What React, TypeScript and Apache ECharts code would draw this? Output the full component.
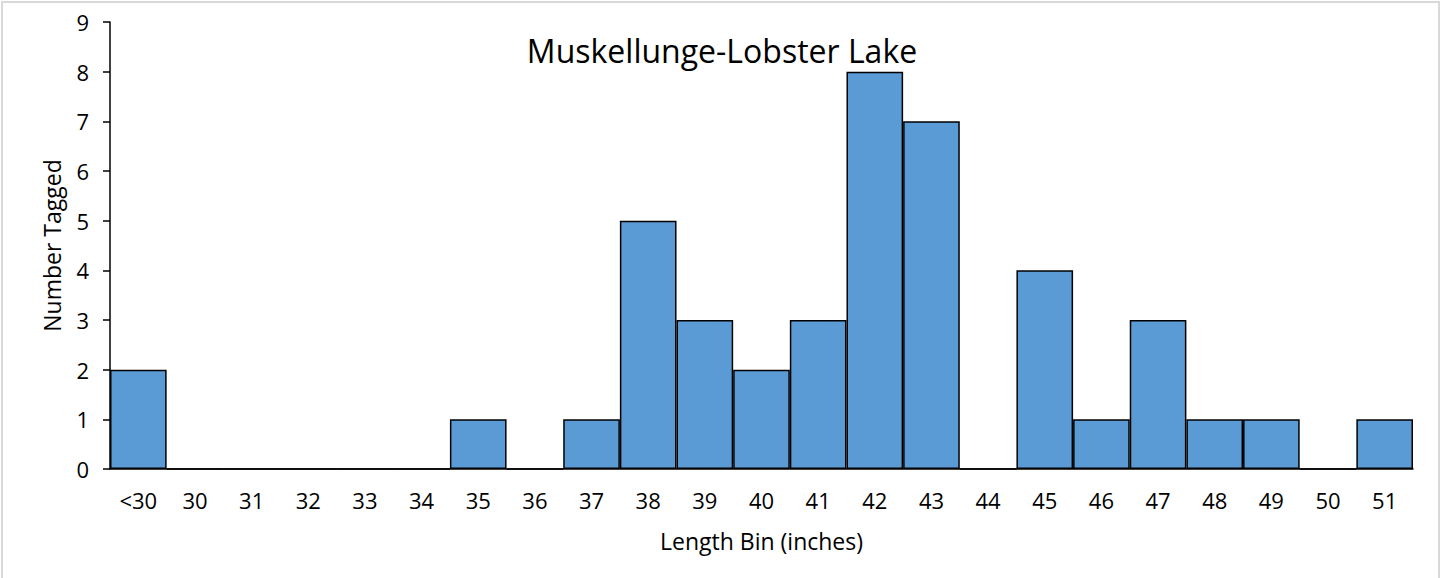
import React, { useEffect, useRef } from "react";
import * as echarts from "echarts";

const categories = ["<30", "30", "31", "32", "33", "34", "35", "36", "37", "38", "39", "40", "41", "42", "43", "44", "45", "46", "47", "48", "49", "50", "51"];
const numberTagged = [2, 0, 0, 0, 0, 0, 1, 0, 1, 5, 3, 2, 3, 8, 7, 0, 4, 1, 3, 1, 1, 0, 1];
const yTicks = { min: 0, max: 9, interval: 1 };
const titleText = "Muskellunge-Lobster Lake";
const xName = "Length Bin (inches)";
const yName = "Number Tagged";

const FONT = "Open Sans";

export default function App() {
  const ref = useRef<HTMLDivElement>(null);
  useEffect(() => {
    if (!ref.current) return;
    const chart = echarts.init(ref.current, null, { renderer: "svg" });
    chart.setOption({
      animation: false,
      backgroundColor: "#ffffff",
      textStyle: { fontFamily: FONT },
      graphic: [
        {
          type: "rect",
          shape: { x: 2, y: 2, width: 1437, height: 590 },
          style: { fill: "none", stroke: "#d9d9d9", lineWidth: 2 },
          silent: true,
        },
        {
          type: "text",
          x: 722,
          y: 50,
          style: {
            text: titleText,
            font: `32px "${FONT}"`,
            fill: "#000000",
            textAlign: "center",
            textVerticalAlign: "middle",
          },
        },
      ],
      grid: { left: 110, right: 29, top: 22, bottom: 109, containLabel: false },
      xAxis: {
        type: "category",
        data: categories,
        name: xName,
        nameLocation: "middle",
        nameGap: 60,
        nameTextStyle: { fontSize: 23, color: "#000", fontFamily: FONT },
        axisLine: { show: true, lineStyle: { color: "#000", width: 1.5 } },
        axisTick: { show: false },
        axisLabel: { fontSize: 22, color: "#000", margin: 20, fontFamily: FONT, interval: 0 },
        splitLine: { show: false },
      },
      yAxis: {
        type: "value",
        min: yTicks.min,
        max: yTicks.max,
        interval: yTicks.interval,
        name: yName,
        nameLocation: "middle",
        nameGap: 47,
        nameTextStyle: { fontSize: 23, color: "#000", fontFamily: FONT },
        axisLine: { show: true, lineStyle: { color: "#000", width: 1.5 } },
        axisTick: { show: true, inside: false, length: 7, lineStyle: { color: "#000", width: 1.5 } },
        axisLabel: { fontSize: 22, color: "#000", margin: 21, fontFamily: FONT },
        splitLine: { show: false },
      },
      series: [
        {
          type: "bar",
          data: numberTagged,
          barCategoryGap: "0%",
          itemStyle: { color: "#5B9BD5", borderColor: "#000", borderWidth: 1.5 },
        },
      ],
    });
    return () => chart.dispose();
  }, []);
  return (
    <div
      ref={ref}
      style={{ position: "fixed", left: 0, top: 0, width: 1442, height: 578, background: "#fff" }}
    />
  );
}
